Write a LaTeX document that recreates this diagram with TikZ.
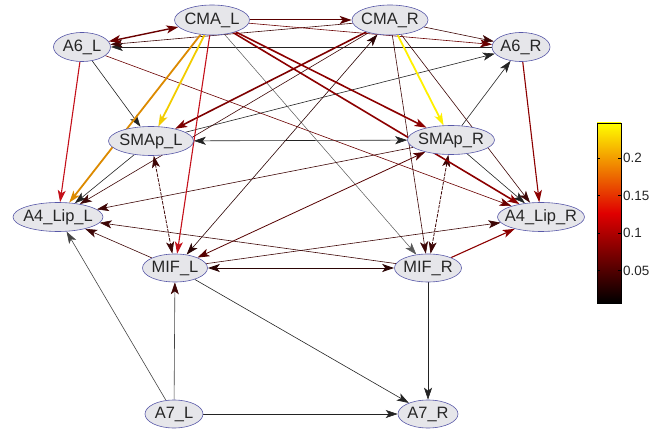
\documentclass[tikz,border=0pt]{standalone}
\usepackage{fontspec}
\setmainfont{Liberation Sans}
\usetikzlibrary{shapes.geometric,arrows.meta}
\pgfdeclarelayer{bg}
\pgfsetlayers{bg,main}
\definecolor{ndfill}{HTML}{E6E6EA}
\definecolor{ndline}{HTML}{5858A8}
\definecolor{cyel}{HTML}{FFF000}
\definecolor{cgold}{HTML}{F2CC00}
\definecolor{corg}{HTML}{DC8A00}
\definecolor{cred}{HTML}{C4101A}
\definecolor{cdred}{HTML}{8C0000}
\definecolor{cmred}{HTML}{6A0000}
\definecolor{cdk}{HTML}{3E0606}
\definecolor{cbk}{HTML}{232323}
\definecolor{hotred}{HTML}{E00000}
\tikzset{
  nd/.style={ellipse, draw=ndline, fill=ndfill, line width=0.6bp, inner sep=0pt,
             minimum height=29bp, font=\fontsize{16.5}{18}\selectfont, text=black!85},
  ed/.style={line width=0.6bp, -{Stealth[length=12bp,width=8bp,inset=3bp]}},
  bi/.style={line width=0.6bp, {Stealth[length=12bp,width=8bp,inset=3bp]}-{Stealth[length=12bp,width=8bp,inset=3bp]}},
  brk/.style={dash pattern=on 3.5bp off 1.2bp},
  tick/.style={line width=0.4bp, black},
  lbl/.style={anchor=west, inner sep=0pt, font=\fontsize{13.5}{15}\selectfont, text=black!85}
}
\begin{document}
\begin{tikzpicture}[x=1bp,y=-1bp]
\useasboundingbox (0,0) rectangle (667,433);
% nodes
\node[nd, minimum width=75bp, minimum height=30bp] (CMAL) at (212,20) {\makebox[0pt]{CMA\_L}};
\node[nd, minimum width=76bp, minimum height=30bp] (CMAR) at (390,20) {\makebox[0pt]{CMA\_R}};
\node[nd, minimum width=57bp] (A6L) at (82,47) {\makebox[0pt]{A6\_L}};
\node[nd, minimum width=58bp] (A6R) at (521,47) {\makebox[0pt]{A6\_R}};
\node[nd, minimum width=85bp] (SMApL) at (151,141) {\makebox[0pt]{SMAp\_L}};
\node[nd, minimum width=87bp] (SMApR) at (451,140) {\makebox[0pt]{SMAp\_R}};
\node[nd, minimum width=90bp] (A4L) at (58,217) {\makebox[0pt]{A4\_Lip\_L}};
\node[nd, minimum width=87bp] (A4R) at (541,217) {\makebox[0pt]{A4\_Lip\_R}};
\node[nd, minimum width=65bp, minimum height=28bp] (MIFL) at (175,268) {\makebox[0pt]{MIF\_L}};
\node[nd, minimum width=67bp, minimum height=28bp] (MIFR) at (428,268) {\makebox[0pt]{MIF\_R}};
\node[nd, minimum width=58bp, minimum height=28bp] (A7L) at (174,414) {\makebox[0pt]{A7\_L}};
\node[nd, minimum width=60bp, minimum height=28bp] (A7R) at (428,414) {\makebox[0pt]{A7\_R}};
% edges
\begin{pgfonlayer}{bg}
% black / very dark
\draw[ed, cbk] (A6R) -- (A6L);
\draw[ed, cbk] (A6L) -- (SMApL);
\draw[bi, cbk] (SMApL) -- (SMApR);
\draw[ed, cbk] (SMApL) -- (A4L);
\draw[ed, cbk] (SMApL) -- (A6R);
\draw[ed, cbk] (SMApR) -- (A6R);
\draw[ed, cbk] (SMApR) -- (A4R);
\draw[ed, cbk] (MIFL) -- (A7R);
\draw[ed, cbk] (MIFR) -- (A7R);
\draw[ed, cbk] (A7L) -- (A7R);
\draw[ed, cbk!85] (A7L) -- (A4L);
\draw[ed, black!65, line width=0.5bp] (CMAL) -- (MIFR);
\draw[line width=0.6bp, cbk!85, -{Stealth[length=12bp,width=8bp,inset=3bp,color=cdk]}] (A7L) -- (MIFL);
\draw[bi, cdk!70!black] (CMAR) -- (MIFL);
\draw[bi, cdk!70!black, line width=0.8bp] (MIFL) -- (MIFR);
\draw[ed, cdk] (CMAR) -- (A6R);
\draw[ed, cdk] (CMAR) -- (A6L);
\draw[ed, cdk] (CMAR) -- (A4L);
\draw[ed, cdk] (CMAR) -- (MIFR);
\draw[ed, cdk] (CMAR) -- (A4R);
\draw[ed, cdk] (SMApR) -- (A4L);
\draw[ed, cdk] (MIFL) -- (A4L);
\draw[ed, cdk] (MIFL) -- (A4R);
\draw[ed, cdk] (MIFR) -- (A4L);
\draw[bi, cdk, brk, line width=0.8bp] (SMApL) -- (MIFL);
\draw[bi, cdk, brk, line width=0.8bp] (SMApR) -- (MIFR);
\draw[bi, cmred!80!black, line width=0.8bp] (MIFL) -- (SMApR);
\draw[ed, cmred] (CMAL) -- (A6R);
\draw[ed, cmred] (A6L) -- (A4R);
% dark reds
\draw[ed, cmred!85!black, line width=1.0bp] (CMAL) -- (CMAR);
\draw[bi, cmred, line width=1.4bp] (CMAL) -- (A6L);
\draw[ed, cdred, line width=1.1bp] (A6R) -- (A4R);
\draw[ed, cdred, line width=1.1bp] (MIFR) -- (A4R);
\draw[ed, cdred!90!black, line width=1.6bp] (CMAR) -- (SMApL);
\draw[ed, cdred, line width=1.6bp] (CMAL) -- (SMApR);
\draw[ed, cdred, line width=1.6bp] (CMAL) -- (A4R);
% reds
\draw[ed, cred, line width=1.1bp] (A6L) -- (A4L);
\draw[ed, cred, line width=1.1bp] (CMAL) -- (MIFL);
% orange / yellow
\draw[ed, corg, line width=1.8bp] (CMAL) -- (A4L);
\draw[ed, cgold, line width=1.8bp] (CMAL) -- (SMApL);
\draw[ed, cyel, line width=1.8bp] (CMAR) -- (SMApR);
\end{pgfonlayer}
% colorbar
\shade[bottom color=black, top color=yellow, middle color=hotred] (597,123) rectangle (621,303);
\draw[line width=0.5bp, black] (597,123) rectangle (621,303);
\foreach \yy/\tx in {158/0.2, 195.5/0.15, 233/0.1, 270.5/0.05}{
  \draw[tick] (597,\yy) -- (600,\yy);
  \draw[tick] (621,\yy) -- (618,\yy);
  \node[lbl] at (623,\yy) {\tx};
}
\end{tikzpicture}
\end{document}
